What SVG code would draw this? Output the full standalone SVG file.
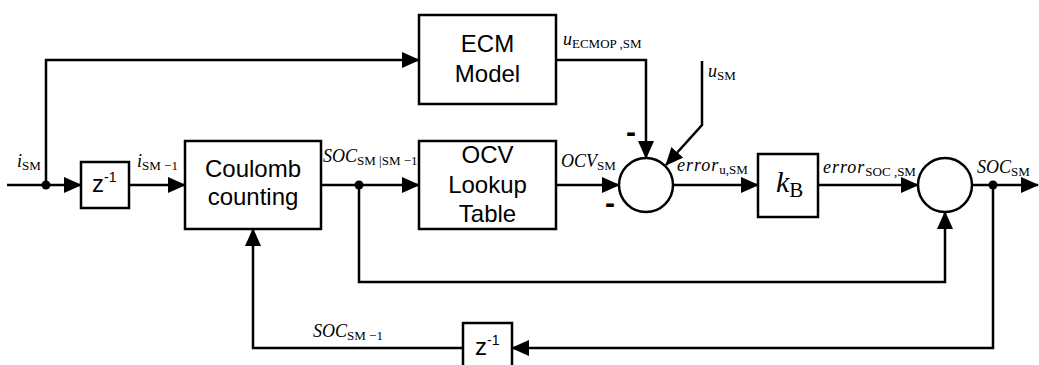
<svg xmlns="http://www.w3.org/2000/svg" width="1039" height="365" viewBox="0 0 1039 365">
<style>
.box{fill:#fff;stroke:#000;stroke-width:2.5}
.ln{fill:none;stroke:#000;stroke-width:2.5}
.t{font-family:"Liberation Sans",Arial,sans-serif;font-size:24px;fill:#000}
.m{font-family:"Liberation Serif","Times New Roman",serif;font-size:18px;font-style:italic;fill:#000}
.s{font-style:normal;font-size:13px}
.minus{font-family:"Liberation Sans",Arial,sans-serif;font-size:30px;font-weight:bold;fill:#000}
</style>
<defs>
<marker id="ah" markerUnits="userSpaceOnUse" markerWidth="18" markerHeight="16" refX="17" refY="8" orient="auto">
<path d="M0,0 L18,8 L0,16 Z" fill="#000"/>
</marker>
</defs>
<g id="connectors">
<path class="ln" d="M7,185 H81" marker-end="url(#ah)"/>
<path class="ln" d="M46,185 V60 H419" marker-end="url(#ah)"/>
<path class="ln" d="M129,185 H185" marker-end="url(#ah)"/>
<path class="ln" d="M321,185 H419" marker-end="url(#ah)"/>
<path class="ln" d="M556,185 H619" marker-end="url(#ah)"/>
<path class="ln" d="M556,60 H646 V158" marker-end="url(#ah)"/>
<path class="ln" d="M702,61 V125 L666,165" marker-end="url(#ah)"/>
<path class="ln" d="M673,185 H758" marker-end="url(#ah)"/>
<path class="ln" d="M818,185 H918" marker-end="url(#ah)"/>
<path class="ln" d="M972,185 H1038" marker-end="url(#ah)"/>
<path class="ln" d="M359,185 V282 H945 V212" marker-end="url(#ah)"/>
<path class="ln" d="M993,185 V348 H512" marker-end="url(#ah)"/>
<path class="ln" d="M463,348 H253 V229" marker-end="url(#ah)"/>
<circle cx="46" cy="185" r="4.5" fill="#000"/>
<circle cx="359" cy="185" r="4.5" fill="#000"/>
<circle cx="993" cy="185" r="4.5" fill="#000"/>
</g>
<g id="z1">
<rect class="box" x="81" y="162" width="48" height="46"/>
<text class="t" x="92" y="192">z<tspan font-size="14" dy="-10">-1</tspan></text>
</g>
<g id="coulomb">
<rect class="box" x="185" y="141" width="136" height="88"/>
<text class="t" x="253" y="177" text-anchor="middle">Coulomb</text>
<text class="t" x="253" y="205" text-anchor="middle">counting</text>
</g>
<g id="ecm">
<rect class="box" x="419" y="15" width="137" height="89"/>
<text class="t" x="487.5" y="52" text-anchor="middle">ECM</text>
<text class="t" x="487.5" y="82" text-anchor="middle">Model</text>
</g>
<g id="ocv">
<rect class="box" x="419" y="141" width="137" height="88"/>
<text class="t" x="487.5" y="163" text-anchor="middle">OCV</text>
<text class="t" x="487.5" y="193" text-anchor="middle">Lookup</text>
<text class="t" x="487.5" y="222" text-anchor="middle">Table</text>
</g>
<g id="sum1">
<circle class="box" cx="646" cy="185" r="27"/>
<text class="minus" x="626" y="142">-</text>
<text class="minus" x="605" y="213">-</text>
</g>
<g id="kb">
<rect class="box" x="758" y="154" width="60" height="63"/>
<text class="m" x="776" y="192" style="font-size:30px">k<tspan dy="5" style="font-style:normal;font-size:21px">B</tspan></text>
</g>
<g id="sum2">
<circle class="box" cx="945" cy="185" r="27"/>
</g>
<g id="z2">
<rect class="box" x="463" y="323" width="49" height="50"/>
<text class="t" x="475" y="355">z<tspan font-size="14" dy="-10">-1</tspan></text>
</g>
<g id="labels">
<text class="m" x="17" y="167">i<tspan class="s" dy="3">SM</tspan></text>
<text class="m" x="137" y="167">i<tspan class="s" dy="3">SM −1</tspan></text>
<text class="m" x="323" y="162">SOC<tspan class="s" dy="3">SM |SM −1</tspan></text>
<text class="m" x="563" y="45">u<tspan class="s" dy="3">ECMOP ,SM</tspan></text>
<text class="m" x="708" y="77">u<tspan class="s" dy="3">SM</tspan></text>
<text class="m" x="561" y="167">OCV<tspan class="s" dy="3">SM</tspan></text>
<text class="m" x="677" y="171" letter-spacing="1">error<tspan class="s" dy="3" letter-spacing="0">u,SM</tspan></text>
<text class="m" x="823" y="173" letter-spacing="1">error<tspan class="s" dy="3" letter-spacing="0">SOC ,SM</tspan></text>
<text class="m" x="977" y="173">SOC<tspan class="s" dy="3">SM</tspan></text>
<text class="m" x="313" y="337">SOC<tspan class="s" dy="3">SM −1</tspan></text>
</g>
</svg>
